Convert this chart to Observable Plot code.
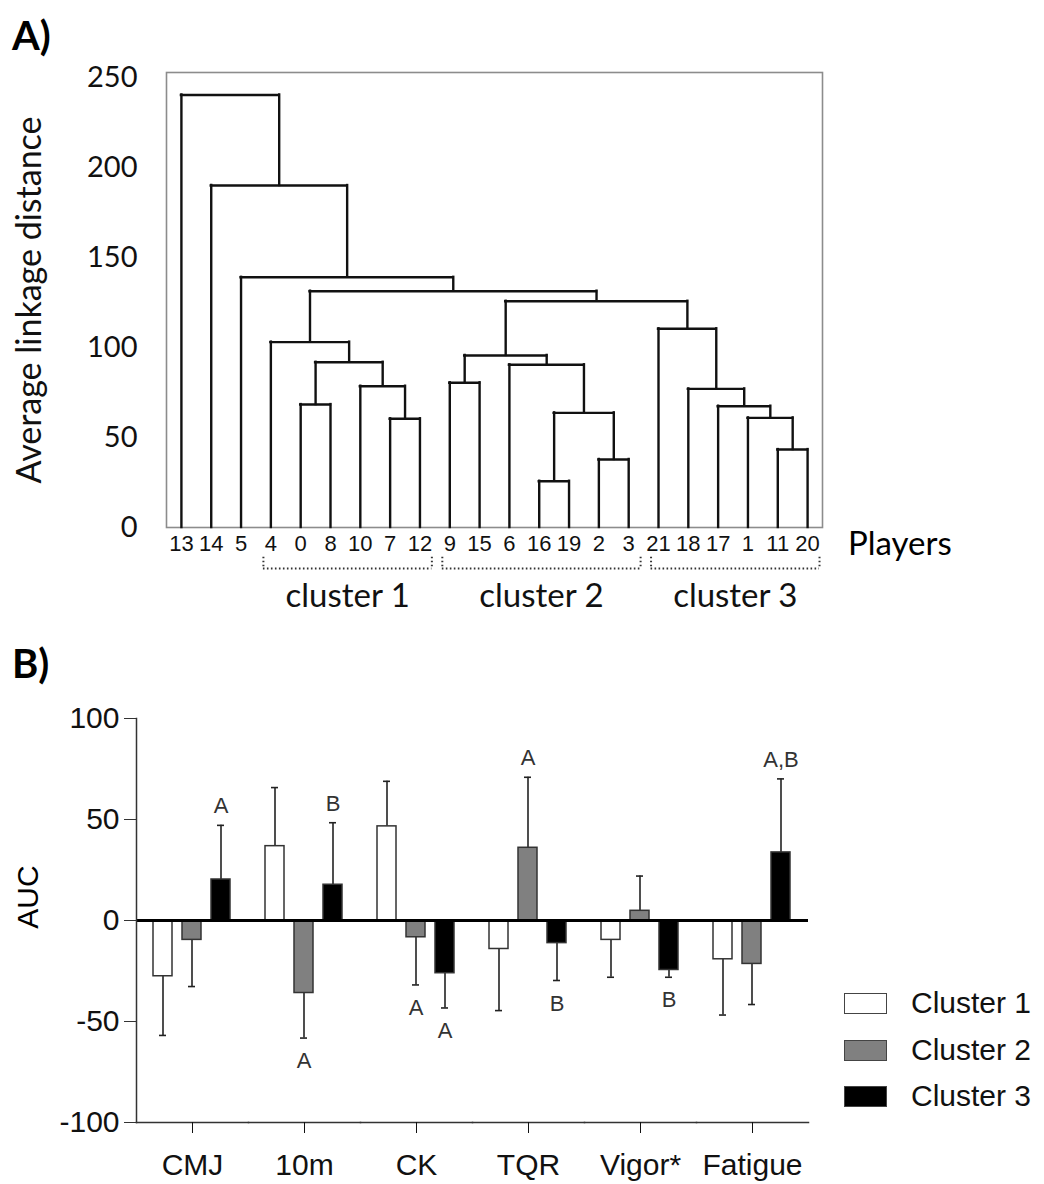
<!DOCTYPE html>
<html><head><meta charset="utf-8">
<script src="https://cdn.jsdelivr.net/npm/d3@7"></script>
<script src="https://cdn.jsdelivr.net/npm/@observablehq/plot@0.6"></script>
<style>
body{margin:0;background:#fff;}
#root{position:relative;width:1044px;height:1184px;overflow:hidden;background:#fff;}
.abs{position:absolute;white-space:nowrap;}
.panel{font-family:Lato, sans-serif;font-weight:700;font-size:40px;line-height:40px;color:#000;}
.rot{transform:translate(-50%,-50%) rotate(-90deg);}
.leg{position:absolute;left:844px;display:flex;align-items:center;height:30px;font-family:"Liberation Sans",Arial,sans-serif;font-size:30px;color:#111;}
.sw{width:41px;height:19px;border:1.5px solid #444;margin-right:24px;}
</style></head><body><div id="root"></div>
<script>
// ---------- Panel A: dendrogram ----------
const leaves = ["13","14","5","4","0","8","10","7","12","9","15","6","16","19","2","3","21","18","17","1","11","20"];
const mergeLeft   = ["16","2","11","7","1","m1","17","0","18","10","9","6","m8","m11","4","21","m14","m15","5","14","13"];
const mergeRight  = ["19","3","20","12","m3","m2","m5","8","m7","m4","15","m6","m10","m12","m13","m9","m16","m17","m18","m19","m20"];
const mergeHeight = [25.7,37.8,43.3,60.4,60.9,63.7,67.4,68.3,77,78.5,80.4,90.4,91.8,95.6,103,110.4,125.7,131.3,139,190,240.3];
const yTicksA = [0,50,100,150,200,250];
const clusterNames = ["cluster 1","cluster 2","cluster 3"];
const clusterFirst = ["4","9","21"];
const clusterLast  = ["12","3","20"];

// ---------- Panel B: bar chart ----------
const categories = ["CMJ","10m","CK","TQR","Vigor*","Fatigue"];
const clusters = ["Cluster 1","Cluster 2","Cluster 3"];
const meanC1 = [-27.6, 36.8, 46.6, -14.1, -9.6, -19.2];
const sdC1   = [29.3, 29.0, 22.3, 30.5, 18.5, 27.6];
const meanC2 = [-9.6, -35.9, -8.3, 36.0, 4.8, -21.5];
const sdC2   = [23.1, 22.3, 23.6, 34.9, 17.2, 20.1];
const meanC3 = [20.3, 17.7, -26.1, -11.2, -24.5, 33.7];
const sdC3   = [26.8, 30.7, 17.2, 18.5, 3.6, 36.4];
const lettersC1 = ["","","","","",""];
const lettersC2 = ["","A","A","A","",""];
const lettersC3 = ["A","B","A","B","B","A,B"];
const yTicksB = [-100,-50,0,50,100];
const clusterColors = ["#ffffff","#808080","#000000"];

const root = document.getElementById("root");

// ---- build dendrogram segments ----
const pos = {};
leaves.forEach((l,i)=>pos[l]={x:i,h:0});
const hsegs=[], vsegs=[];
mergeHeight.forEach((h,k)=>{
  const L=pos[mergeLeft[k]], R=pos[mergeRight[k]];
  hsegs.push({x1:L.x,x2:R.x,y:h});
  vsegs.push({x:L.x,y1:L.h,y2:h});
  vsegs.push({x:R.x,y1:R.h,y2:h});
  pos["m"+(k+1)]={x:(L.x+R.x)/2,h};
});
const bracketLowY = -22.8, bracketHighY = -16.5;
const clusterRows = clusterNames.map((n,i)=>{
  const a=leaves.indexOf(clusterFirst[i])-0.25, b=leaves.indexOf(clusterLast[i])+0.4;
  return {name:n,a,b,mid:(a+b)/2};
});
const bracketEnds = clusterRows.flatMap(d=>[{x:d.a},{x:d.b}]);
const dotted = {stroke:"#333", strokeWidth:2, strokeDasharray:"1.6,2.4"};

const plotA = Plot.plot({
  width:1044, height:640, marginTop:72, marginLeft:166, marginRight:222, marginBottom:113,
  style:{fontFamily:"'Liberation Sans', Arial, sans-serif", fontSize:"22px", color:"#111", background:"transparent"},
  x:{type:"linear", domain:[-0.5, leaves.length-0.5]},
  y:{domain:[0, 252.8]},
  marks:[
    Plot.frame({stroke:"#8c8c8c", strokeWidth:1.6}),
    Plot.ruleX(vsegs, {x:"x", y1:"y1", y2:"y2", stroke:"#111", strokeWidth:2.4, strokeLinecap:"square"}),
    Plot.ruleY(hsegs, {x1:"x1", x2:"x2", y:"y", stroke:"#111", strokeWidth:2.4, strokeLinecap:"square"}),
    Plot.axisX(d3.range(leaves.length), {tickSize:0, tickPadding:8, tickFormat:i=>leaves[i], fontSize:22, label:null}),
    Plot.axisY(yTicksA, {tickSize:0, tickPadding:29, fontSize:29, fontFamily:"Lato", label:null}),
    Plot.text(["Average linkage distance"], {frameAnchor:"left", textAnchor:"middle", rotate:-90, dx:-136, fontSize:34, fontFamily:"Lato"}),
    Plot.ruleY(clusterRows, {x1:"a", x2:"b", y:()=>bracketLowY, ...dotted}),
    Plot.ruleX(bracketEnds, {x:"x", y1:()=>bracketHighY, y2:()=>bracketLowY, ...dotted}),
    Plot.text(clusterRows, {x:"mid", text:"name", frameAnchor:"bottom", dy:79, fontSize:33, fontFamily:"Lato"})
  ]
});
plotA.style.position="absolute"; plotA.style.left="0px"; plotA.style.top="0px";
root.appendChild(plotA);

// ---- bar rows ----
const means=[meanC1,meanC2,meanC3], sds=[sdC1,sdC2,sdC3], letters=[lettersC1,lettersC2,lettersC3];
const rows=[];
categories.forEach((c,i)=>clusters.forEach((k,j)=>{
  const m=means[j][i], s=sds[j][i];
  rows.push({cat:c, cluster:k, mean:m, end:m+Math.sign(m)*s, letter:letters[j][i]});
}));

const plotB = Plot.plot({
  width:1044, height:494, marginTop:28, marginBottom:62, marginLeft:134, marginRight:234,
  style:{fontFamily:"'Liberation Sans', Arial, sans-serif", fontSize:"30px", color:"#111", background:"transparent", overflow:"visible"},
  fx:{domain:categories, padding:0, label:null},
  x:{domain:clusters, paddingInner:0.333, paddingOuter:0.54, axis:null},
  y:{domain:[-100,100]},
  color:{domain:clusters, range:clusterColors},
  marks:[
    Plot.ruleX(rows, {fx:"cat", x:"cluster", y1:"mean", y2:"end", stroke:"#222", strokeWidth:1.6}),
    Plot.tickY(rows, {fx:"cat", x:"cluster", y:"end", insetLeft:6, insetRight:6, stroke:"#222", strokeWidth:1.6}),
    Plot.barY(rows, {fx:"cat", x:"cluster", y:"mean", fill:"cluster", stroke:"#333", strokeWidth:1.5}),
    Plot.ruleY([0], {stroke:"#000", strokeWidth:3.2}),
    Plot.frame({anchor:"bottom", stroke:"#333", strokeWidth:1.5}),
    Plot.frame({anchor:"left", facetAnchor:"left", stroke:"#333", strokeWidth:1.5}),
    Plot.axisY(yTicksB, {tickSize:12, tickPadding:5, fontSize:30, tickFormat:d=>String(d), label:null, stroke:"#333"}),
    Plot.axisFx({anchor:"bottom", tickSize:11, tickPadding:20, fontSize:30, label:null}),
    Plot.text(rows.filter(d=>d.letter && d.end>0), {fx:"cat", x:"cluster", y:"end", text:"letter", dy:-19, fontSize:22, fill:"#333"}),
    Plot.text(rows.filter(d=>d.letter && d.end<0), {fx:"cat", x:"cluster", y:"end", text:"letter", dy:23, fontSize:22, fill:"#333"})
  ]
});
plotB.style.position="absolute"; plotB.style.left="0px"; plotB.style.top="690px";
root.appendChild(plotB);

// ---- HTML texts ----
function addDiv(html, cls, css){const d=document.createElement("div");d.className=cls;d.textContent=html;Object.assign(d.style,css);root.appendChild(d);return d;}
addDiv("A)","abs panel",{left:"12px",top:"15px"});
addDiv("B)","abs panel",{left:"12px",top:"643px"});
addDiv("Players","abs",{left:"848px",top:"526px",fontFamily:"Lato",fontSize:"33px",lineHeight:"33px"});
addDiv("AUC","abs rot",{left:"28px",top:"897px",fontFamily:"'Liberation Sans', Arial",fontSize:"30px"});
const legY=[1003,1050,1096];
clusters.forEach((k,j)=>{
  const row=document.createElement("div"); row.className="leg"; row.style.top=(legY[j]-15)+"px";
  const sw=document.createElement("div"); sw.className="sw"; sw.style.background=clusterColors[j];
  const t=document.createElement("span"); t.textContent=k;
  row.appendChild(sw); row.appendChild(t); root.appendChild(row);
});
</script></body></html>
